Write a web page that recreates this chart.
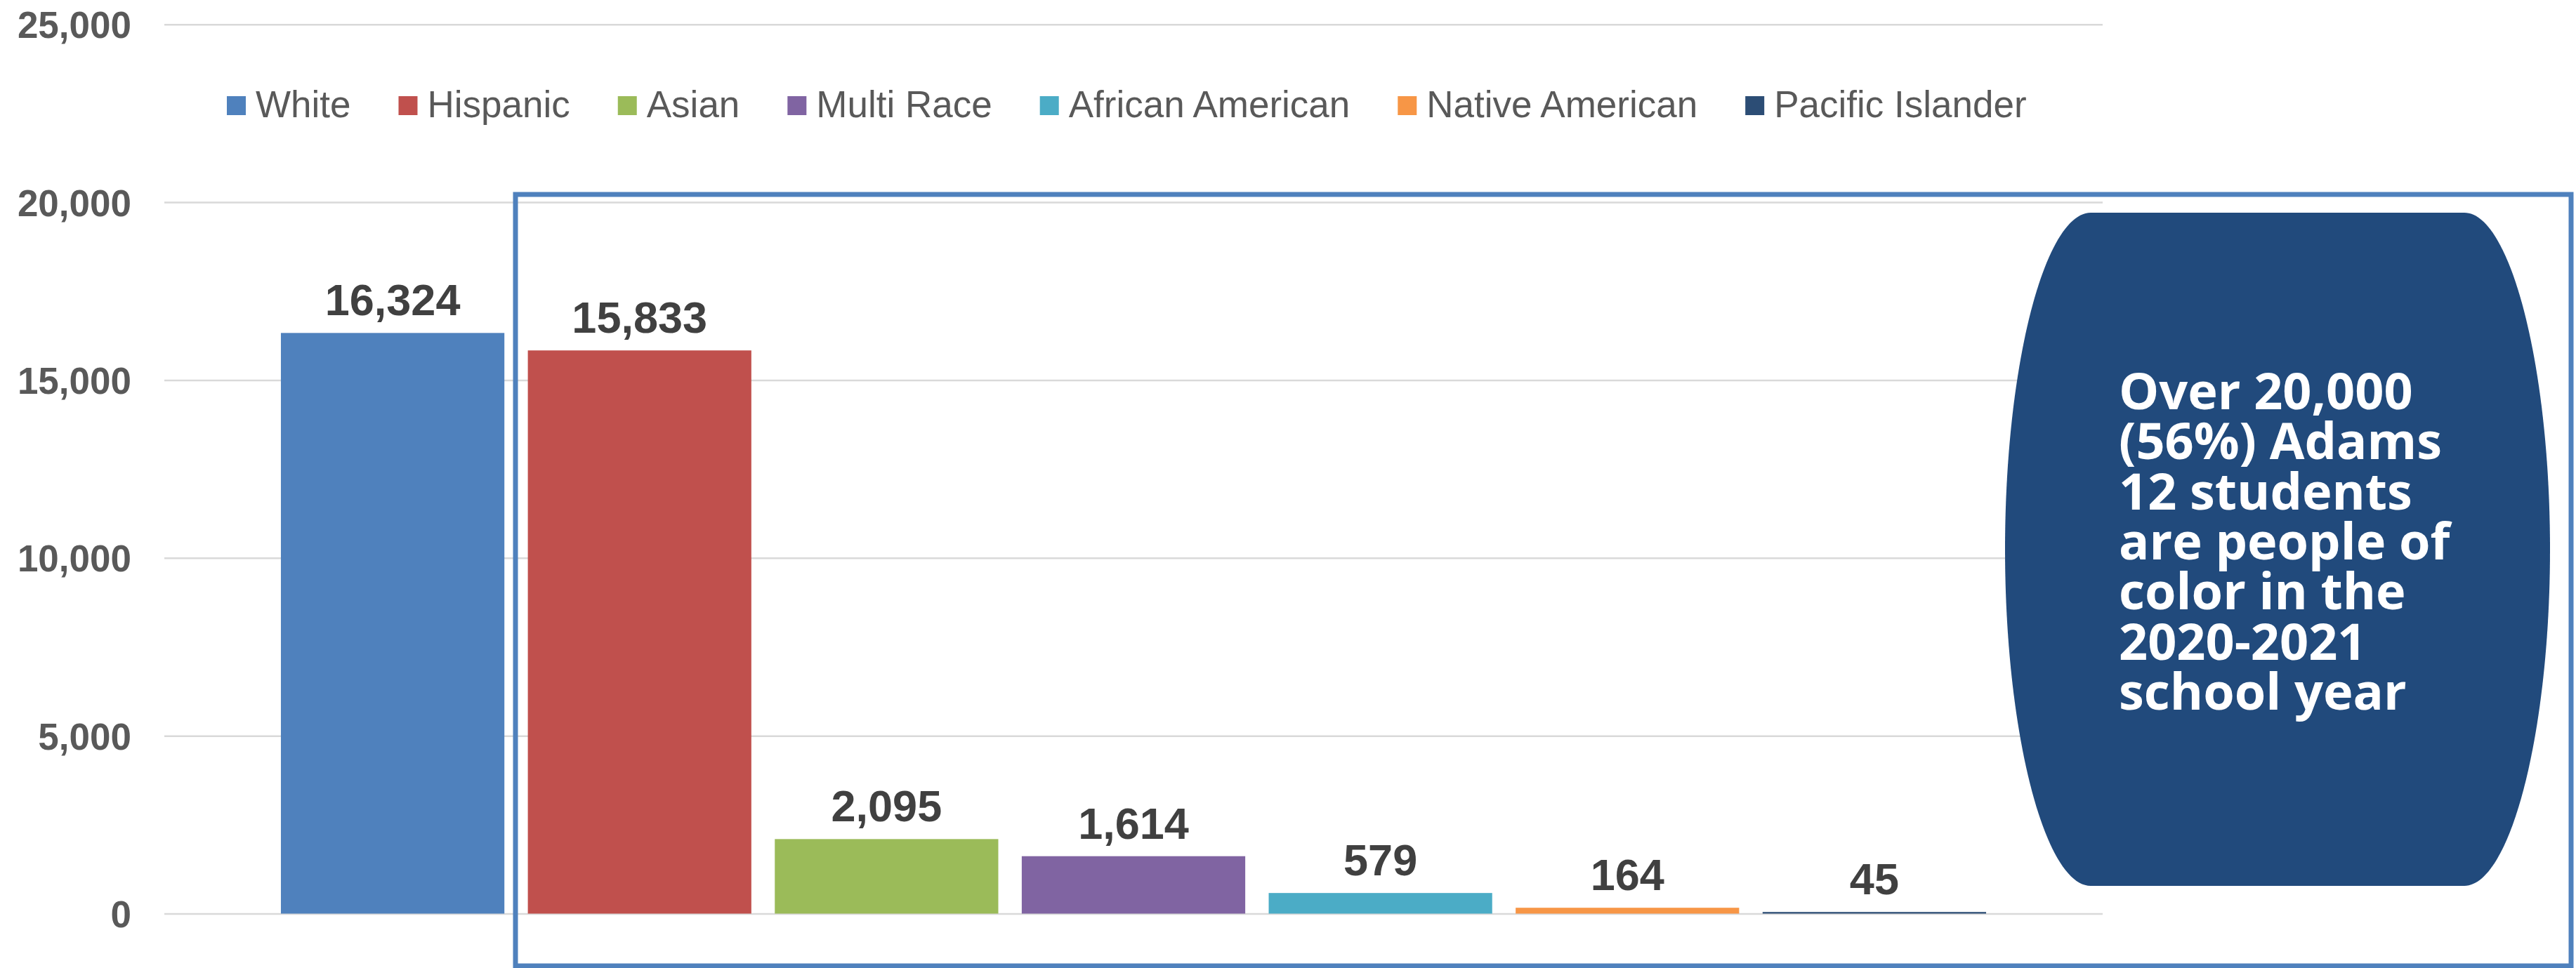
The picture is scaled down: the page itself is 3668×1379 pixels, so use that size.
<!DOCTYPE html>
<html>
<head>
<meta charset="utf-8">
<script src="https://cdn.jsdelivr.net/npm/d3@7"></script>
<style>
  body { margin: 0; background: #fff; }
  svg { display: block; }
</style>
</head>
<body>
<div id="chart"></div>
<script>
// data
const groups = ["White", "Hispanic", "Asian", "Multi Race", "African American", "Native American", "Pacific Islander"];
const students = [16324, 15833, 2095, 1614, 579, 164, 45];
const colors = ["#4F81BD", "#C0504D", "#9BBB59", "#8064A2", "#4BACC6", "#F79646", "#2C4D75"];
const yTicks = [0, 5000, 10000, 15000, 20000, 25000];
const calloutLines = [
  "Over 20,000",
  "(56%) Adams",
  "12 students",
  "are people of",
  "color in the",
  "2020-2021",
  "school year"
];

const width = 3668;
const height = 1379;
const plot = { left: 234, right: 2994, top: 34.7, bottom: 1301.5 };

const svg = d3
  .select("#chart")
  .append("svg")
  .attr("width", width)
  .attr("height", height);

const xScale = d3
  .scaleBand()
  .domain(groups)
  .range([plot.left, plot.right])
  .paddingInner(0.095)
  .paddingOuter(0.472);

const yScale = d3
  .scaleLinear()
  .domain([0, 25000])
  .range([plot.bottom, plot.top]);

const fmt = d3.format(",");

// gridlines + y labels
const yAxis = d3
  .axisLeft(yScale)
  .tickValues(yTicks)
  .tickFormat(fmt)
  .tickSize(-(plot.right - plot.left))
  .tickPadding(47);

const yG = svg
  .append("g")
  .attr("transform", "translate(" + plot.left + ",0)")
  .call(yAxis);
yG.select(".domain").remove();
yG.selectAll(".tick line")
  .attr("stroke", "#D9D9D9")
  .attr("stroke-width", 2.5);
yG.selectAll(".tick text")
  .attr("dy", "0.36em")
  .style("font-family", "'Liberation Sans', Arial, sans-serif")
  .style("font-size", "53px")
  .style("font-weight", "bold")
  .attr("fill", "#595959");

// bars
svg
  .selectAll(".bar")
  .data(groups)
  .enter()
  .append("rect")
  .attr("class", "bar")
  .attr("x", d => xScale(d))
  .attr("width", xScale.bandwidth())
  .attr("y", (d, i) => yScale(students[i]))
  .attr("height", (d, i) => yScale(0) - yScale(students[i]))
  .style("fill", (d, i) => colors[i]);

// value labels
svg
  .selectAll(".val")
  .data(groups)
  .enter()
  .append("text")
  .attr("class", "val")
  .attr("x", d => xScale(d) + xScale.bandwidth() / 2)
  .attr("y", (d, i) => yScale(students[i]) - 25)
  .attr("text-anchor", "middle")
  .style("font-family", "'Liberation Sans', Arial, sans-serif")
  .style("font-size", "63px")
  .style("font-weight", "bold")
  .style("fill", "#404040")
  .text((d, i) => fmt(students[i]));

// legend
const legend = svg.append("g");
let lx = 323;
groups.forEach((g, i) => {
  legend
    .append("rect")
    .attr("x", lx)
    .attr("y", 137)
    .attr("width", 27)
    .attr("height", 27)
    .style("fill", colors[i]);
  const t = legend
    .append("text")
    .attr("x", lx + 41)
    .attr("y", 167)
    .style("font-family", "'Liberation Sans', Arial, sans-serif")
    .style("font-size", "53px")
    .style("fill", "#595959")
    .text(g);
  lx = lx + 41 + t.node().getComputedTextLength() + 68;
});

// blue outline box
svg
  .append("rect")
  .attr("x", 734)
  .attr("y", 277)
  .attr("width", 3661 - 734)
  .attr("height", 1376 - 277)
  .attr("fill", "none")
  .attr("stroke", "#4F81BD")
  .attr("stroke-width", 7);

// callout shape
const o = { l: 2855, r: 3631, t: 303, b: 1262, inset: 122 };
const midY = (o.t + o.b) / 2;
const p = d3.path();
p.moveTo(o.l + o.inset, o.t);
p.lineTo(o.r - o.inset, o.t);
p.bezierCurveTo(o.r - o.inset + 65, o.t, o.r, o.t + 217, o.r, midY);
p.bezierCurveTo(o.r, o.b - 217, o.r - o.inset + 65, o.b, o.r - o.inset, o.b);
p.lineTo(o.l + o.inset, o.b);
p.bezierCurveTo(o.l + o.inset - 65, o.b, o.l, o.b - 217, o.l, midY);
p.bezierCurveTo(o.l, o.t + 217, o.l + o.inset - 65, o.t, o.l + o.inset, o.t);
p.closePath();

svg
  .append("path")
  .attr("d", p.toString())
  .attr("fill", "#214A7C");

const callout = svg
  .append("text")
  .style("font-family", "'Open Sans', sans-serif")
  .style("font-size", "72px")
  .style("font-weight", "bold")
  .style("fill", "#ffffff");

calloutLines.forEach((line, i) => {
  callout
    .append("tspan")
    .attr("x", 3017)
    .attr("y", 583 + i * 71.3)
    .text(line);
});
</script>
</body>
</html>
